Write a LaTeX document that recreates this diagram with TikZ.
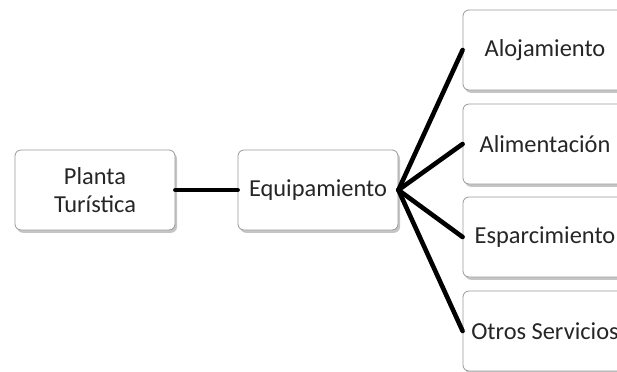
\documentclass[tikz,border=0pt]{standalone}
\usepackage{fontspec}
\setmainfont{Carlito}
\usetikzlibrary{shadows}
\tikzset{
  font=\fontsize{12.2}{14}\selectfont,
  % Box with shadow
  box/.style={draw=gray!80, fill=white, rounded corners=3pt,
    minimum width=80pt, minimum height=40pt, inner sep=1pt, align=center,
    text=black!85,
    drop shadow={shadow xshift=1pt, shadow yshift=-1.4pt, opacity=0.45}},
  % Boxes at the right
  sbox/.style={box, minimum width=82pt},
  % Connectors
  link/.style={line width=2.3pt, line cap=round},
}
\begin{document}
\begin{tikzpicture}[x=0.5pt, y=-0.5pt]
      \clip (0,0) rectangle (617,371);
      \fill[white] (0,0) rectangle (617,371);

      \node[box] (planta) at (95,190) {Planta\\Turística};
      \node[box] (equip) at (318,190) {Equipamiento};

      \node[sbox] (aloj) at (545,50) {Alojamiento};
      \node[sbox] (alim) at (545,144) {Alimentación};
      \node[sbox] (espar) at (545,237) {Esparcimiento};
      \node[sbox] (otros) at (545,331) {Otros Servicios};

      \draw[link] (planta) -- (equip);
      \foreach \n in {aloj, alim, espar, otros}
        \draw[link] (equip.east) -- (\n.west);
    \end{tikzpicture}
\end{document}
